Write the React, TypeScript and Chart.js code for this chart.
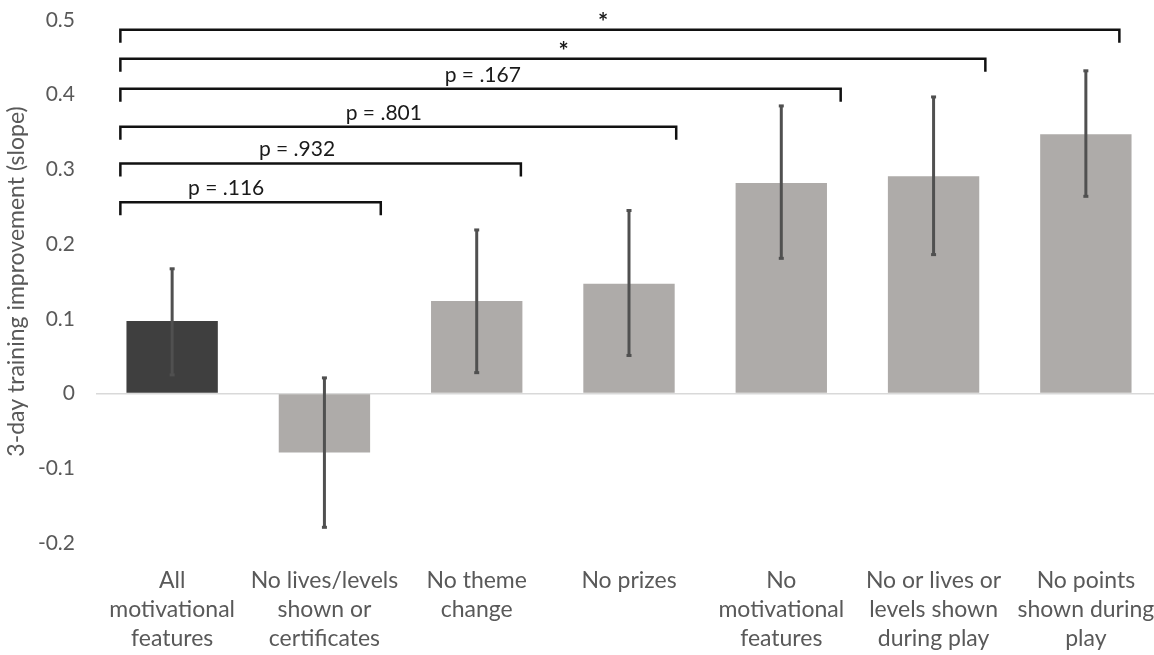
import React, { useEffect, useRef } from "react";
import { Chart, registerables } from "chart.js";

Chart.register(...registerables);

const categories: string[][] = [
  ["All", "motivational", "features"],
  ["No lives/levels", "shown or", "certificates"],
  ["No theme", "change"],
  ["No prizes"],
  ["No", "motivational", "features"],
  ["No or lives or", "levels shown", "during play"],
  ["No points", "shown during", "play"],
];
const means = [0.097, -0.079, 0.124, 0.147, 0.282, 0.291, 0.347];
const errLow = [0.025, -0.179, 0.028, 0.051, 0.181, 0.186, 0.264];
const errHigh = [0.167, 0.021, 0.219, 0.245, 0.385, 0.397, 0.432];
const barColors = ["#3f3f3f", "#aeaba9", "#aeaba9", "#aeaba9", "#aeaba9", "#aeaba9", "#aeaba9"];

// significance brackets (positions in category-index units and y values)
const bracketLabels = ["p = .116", "p = .932", "p = .801", "p = .167", "*", "*"];
const bracketLevels = [0.256, 0.308, 0.357, 0.408, 0.448, 0.487];
const bracketStart = [-0.34, -0.34, -0.34, -0.34, -0.34, -0.34];
const bracketEnd = [1.37, 2.29, 3.31, 4.39, 5.34, 6.22];
const bracketLabelPos = [0.355, 0.82, 1.39, 2.04, 2.57, 2.83];

const yTicks = [-0.2, -0.1, 0, 0.1, 0.2, 0.3, 0.4, 0.5];

const FONT = "Lato, 'Open Sans', sans-serif";

export default function App() {
  const ref = useRef<HTMLCanvasElement | null>(null);
  useEffect(() => {
    if (!ref.current) return;
    const xPix = (xs: any, v: number) => {
      const p0 = xs.getPixelForValue(0);
      const p1 = xs.getPixelForValue(1);
      return p0 + (p1 - p0) * v;
    };
    const overlay = {
      id: "overlay",
      afterDatasetsDraw(chart: any) {
        const { ctx, scales } = chart;
        const xs = scales.x;
        const ys = scales.y;
        ctx.save();
        // error bars
        ctx.strokeStyle = "#505050";
        ctx.fillStyle = "#505050";
        ctx.lineWidth = 3;
        ctx.lineCap = "butt";
        for (let i = 0; i < means.length; i++) {
          const x = xs.getPixelForValue(i);
          const yl = ys.getPixelForValue(errLow[i]);
          const yh = ys.getPixelForValue(errHigh[i]);
          ctx.beginPath();
          ctx.moveTo(x, yl);
          ctx.lineTo(x, yh);
          ctx.stroke();
          ctx.fillRect(x - 2.5, yl - 1.5, 5, 3);
          ctx.fillRect(x - 2.5, yh - 1.5, 5, 3);
        }
        // brackets
        ctx.strokeStyle = "#111111";
        ctx.lineWidth = 2.5;
        ctx.lineJoin = "miter";
        ctx.fillStyle = "#1a1a1a";
        ctx.textAlign = "center";
        ctx.textBaseline = "alphabetic";
        for (let i = 0; i < bracketLabels.length; i++) {
          const y = ys.getPixelForValue(bracketLevels[i]);
          const x1 = xPix(xs, bracketStart[i]);
          const x2 = xPix(xs, bracketEnd[i]);
          ctx.beginPath();
          ctx.moveTo(x1, y + 13);
          ctx.lineTo(x1, y);
          ctx.lineTo(x2, y);
          ctx.lineTo(x2, y + 13);
          ctx.stroke();
          const lx = xPix(xs, bracketLabelPos[i]);
          const star = bracketLabels[i] === "*";
          ctx.font = star ? "bold 24px " + FONT : "21px " + FONT;
          ctx.fillText(bracketLabels[i], lx, star ? y + 1 : y - 7);
        }
        ctx.restore();
      },
    };
    const chart = new Chart(ref.current, {
      type: "bar",
      data: {
        labels: categories,
        datasets: [
          {
            data: means,
            backgroundColor: barColors,
            barPercentage: 0.6,
            categoryPercentage: 1,
            borderWidth: 0,
          },
        ],
      },
      options: {
        animation: false,
        responsive: false,
        maintainAspectRatio: false,
        layout: { padding: { top: 20, right: 0, left: 0, bottom: 0 } },
        plugins: { legend: { display: false }, tooltip: { enabled: false } },
        scales: {
          x: {
            grid: { display: false, drawTicks: false },
            border: { display: false },
            ticks: {
              color: "#595959",
              font: { family: FONT, size: 23, lineHeight: "29px" },
              padding: 23,
              maxRotation: 0,
              autoSkip: false,
            },
            afterFit(scale: any) {
              scale.height = 112;
              scale.paddingLeft = 0;
              scale.paddingRight = 0;
            },
          },
          y: {
            min: -0.2,
            max: 0.5,
            afterBuildTicks(scale: any) {
              scale.ticks = yTicks.map((v) => ({ value: v }));
            },
            grid: {
              drawTicks: false,
              color: (c: any) => (c.tick && c.tick.value === 0 ? "#d9d9d9" : "rgba(0,0,0,0)"),
              lineWidth: 1.5,
            },
            border: { display: false },
            ticks: {
              color: "#595959",
              font: { family: FONT, size: 21 },
              padding: 21,
              callback: (v: any) => (Number(v) === 0 ? "0" : Number(v).toFixed(1)),
            },
            title: {
              display: true,
              text: "3-day training improvement (slope)",
              color: "#595959",
              font: { family: FONT, size: 23 },
              padding: { top: 3, bottom: 0 },
            },
            afterFit(scale: any) {
              scale.width = 96;
              scale.paddingTop = 0;
              scale.paddingBottom = 0;
            },
          },
        },
      },
      plugins: [overlay],
    });
    return () => chart.destroy();
  }, []);
  return (
    <div style={{ position: "fixed", left: 0, top: 0, width: 1154, height: 655, overflow: "hidden", background: "#fff" }}>
      <canvas ref={ref} width={1162} height={655} style={{ display: "block" }} />
    </div>
  );
}
